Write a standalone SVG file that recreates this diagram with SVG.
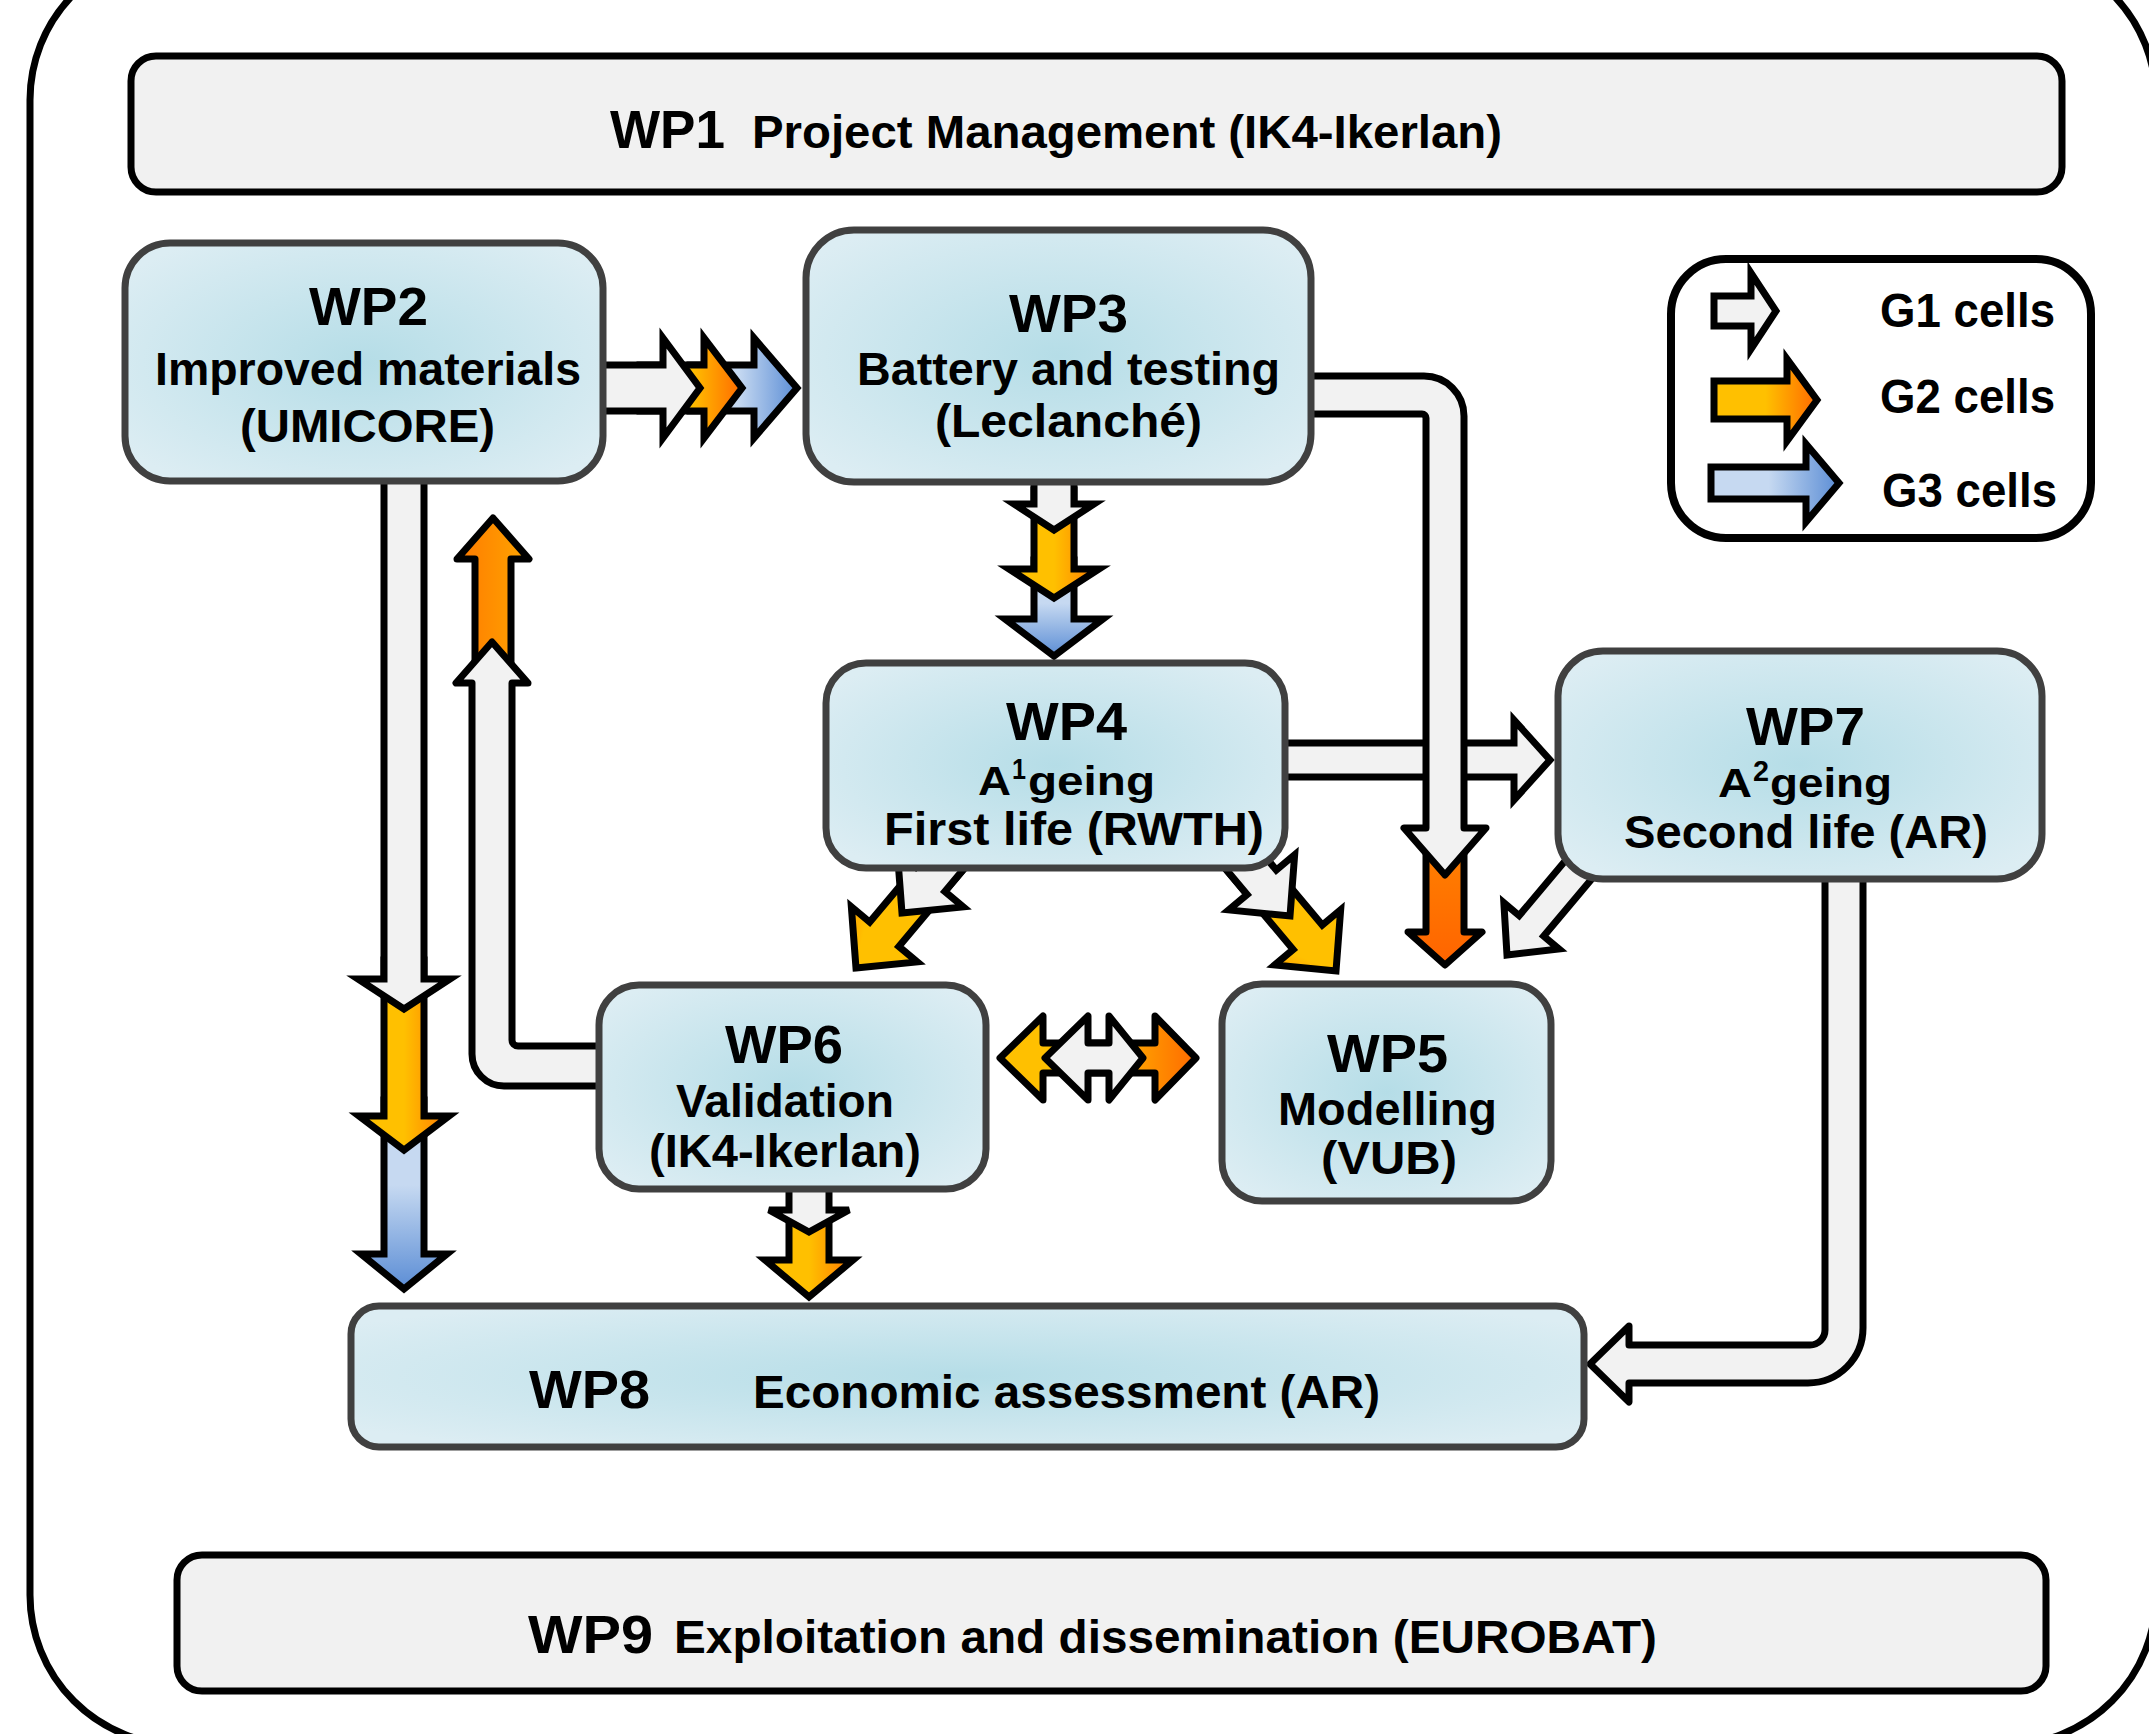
<svg xmlns="http://www.w3.org/2000/svg" width="2149" height="1734" viewBox="0 0 2149 1734">
<style>
.t{font-family:"Liberation Sans",Arial,sans-serif;font-weight:bold;fill:#000}
.box{fill:url(#nodeFill);stroke:#404040;stroke-width:7}
.gbox{fill:#f1f1f1;stroke:#000;stroke-width:7}
.arr{stroke:#000;stroke-width:7;stroke-linejoin:miter}
.rj{stroke-linejoin:round}
.g1{fill:#f2f2f2}
.g2h{fill:url(#g2h)}
.g2d{fill:url(#g2d)}
.g2v{fill:url(#g2v)}
.g2up{fill:url(#g2up)}
.g2dk{fill:url(#g2dk)}
.g3h{fill:url(#g3h)}
.g3v{fill:url(#g3v)}
</style>
<defs>
<radialGradient id="nodeFill" cx="0.5" cy="0.5" r="0.62">
<stop offset="0" stop-color="#b5dde7"/><stop offset="1" stop-color="#dcedf3"/>
</radialGradient>
<linearGradient id="g2h" x1="0" y1="0" x2="1" y2="0">
<stop offset="0" stop-color="#ffc000"/><stop offset="0.5" stop-color="#ffc000"/><stop offset="1" stop-color="#ff6a00"/>
</linearGradient>
<linearGradient id="g2d" x1="0" y1="0" x2="1" y2="1">
<stop offset="0" stop-color="#ffc000"/><stop offset="0.75" stop-color="#ffc000"/><stop offset="1" stop-color="#ff8000"/>
</linearGradient>
<linearGradient id="g2v" x1="0" y1="0" x2="1" y2="0">
<stop offset="0" stop-color="#ffc000"/><stop offset="0.5" stop-color="#ffc000"/><stop offset="1" stop-color="#ff7a00"/>
</linearGradient>
<linearGradient id="g2up" x1="0" y1="0" x2="1" y2="0">
<stop offset="0" stop-color="#ff7a00"/><stop offset="1" stop-color="#ffa500"/>
</linearGradient>
<linearGradient id="g2dk" x1="0" y1="0" x2="0" y2="1">
<stop offset="0" stop-color="#ff8000"/><stop offset="1" stop-color="#ff6400"/>
</linearGradient>
<linearGradient id="g3h" x1="0" y1="0" x2="1" y2="0">
<stop offset="0" stop-color="#c6d9f1"/><stop offset="0.45" stop-color="#c6d9f1"/><stop offset="1" stop-color="#5b8dd5"/>
</linearGradient>
<linearGradient id="g3v" x1="0" y1="0" x2="0" y2="1">
<stop offset="0" stop-color="#c6d9f1"/><stop offset="0.45" stop-color="#c6d9f1"/><stop offset="1" stop-color="#5b8dd5"/>
</linearGradient>
</defs>
<rect width="2149" height="1734" fill="#fff"/>
<rect id="frame" x="30" y="-50" width="2126" height="1795" rx="150" fill="none" stroke="#000" stroke-width="7"/>

<g id="connectors">
<!-- WP2 -> WP3 -->
<path class="arr g3h" d="M690,365 H754 V338 L797,388 L754,438 V411 H690 Z"/>
<path class="arr g2h" d="M640,365 H704 V338 L742,388 L704,438 V411 H640 Z"/>
<path class="arr g1" d="M595,365 H663 V338 L700,388 L663,438 V411 H595 Z"/>
<!-- WP3 -> WP4 -->
<path class="arr g3v" d="M1034,560 V619 H1005 L1054,656 L1103,619 H1074 V560 Z"/>
<path class="arr g2v" d="M1034,490 V569 H1009 L1054,598 L1099,569 H1074 V490 Z"/>
<path class="arr g1" d="M1034,470 V504 H1014 L1054,530 L1094,504 H1074 V470 Z"/>
<!-- WP2 -> WP8 -->
<path class="arr g3v" d="M384,1100 V1254 H361 L404,1289 L447,1254 H424 V1100 Z"/>
<path class="arr g2v" d="M384,960 V1116 H359 L404,1150 L449,1116 H424 V960 Z"/>
<path class="arr g1" d="M384,470 V979 H358 L404,1009 L450,979 H424 V470 Z"/>
<!-- WP6 -> WP2 -->
<path class="arr rj g2up" d="M475,700 V559 H457 L493,518 L529,559 H511 V700 Z"/>
<path class="arr rj g1" d="M615,1046 H518 A6,6 0 0 1 512,1040 V683 H528 L492,642 L456,683 H472 V1054 A32,32 0 0 0 504,1086 H615 Z"/>
<!-- WP6 -> WP8 -->
<path class="arr g2v" d="M789,1220 V1260 H765 L809,1297 L853,1260 H829 V1220 Z"/>
<path class="arr g1" d="M789,1170 V1210 H769 L809,1232 L849,1210 H829 V1170 Z"/>
<!-- WP6 <-> WP5 -->
<path class="arr rj g2h" d="M1000,1058 L1043,1016 V1043 H1155 V1016 L1196,1058 L1155,1100 V1073 H1043 V1100 Z"/>
<path class="arr rj g1" d="M1045,1058 L1088,1016 V1043 H1109 V1016 L1143,1058 L1109,1100 V1073 H1088 V1100 Z"/>
<!-- WP4 -> WP6 -->
<path class="arr g2d" transform="translate(856,968) rotate(130)" d="M0,0 L-44,-43 V-19 H-162 V19 H-44 V43 Z"/>
<path class="arr g1" transform="translate(902,913) rotate(130)" d="M0,0 L-44,-43 V-19 H-90 V19 H-44 V43 Z"/>
<!-- WP4 -> WP5 -->
<path class="arr g2d" transform="translate(1336,971) rotate(50)" d="M0,0 L-44,-43 V-19 H-162 V19 H-44 V43 Z"/>
<path class="arr g1" transform="translate(1290,916) rotate(50)" d="M0,0 L-44,-43 V-19 H-90 V19 H-44 V43 Z"/>
<!-- WP7 -> WP5 -->
<path class="arr g1" transform="translate(1507,955) rotate(130)" d="M0,0 L-38,-36 V-16 H-150 V16 H-38 V36 Z"/>
<!-- WP4 -> WP7 -->
<path class="arr g1" d="M1270,743 H1514 V720 L1550,760 L1514,800 V777 H1270 Z"/>
<!-- WP3 -> WP5 -->
<path class="arr rj g2dk" d="M1426,845 V932 H1408 L1445,965 L1482,932 H1464 V845 Z"/>
<path class="arr rj g1" d="M1290,376 H1424 A40,40 0 0 1 1464,416 V828 H1486 L1445,875 L1404,828 H1426 V418 A4,4 0 0 0 1422,414 H1290 Z"/>
<!-- WP7 -> WP8 -->
<path class="arr rj g1" d="M1825,860 V1330 A15,15 0 0 1 1810,1345 H1629 V1326 L1590,1364 L1629,1402 V1383 H1808 A55,55 0 0 0 1863,1328 V860 Z"/>
</g>

<g id="wp1">
<rect class="gbox" x="131" y="56" width="1931" height="136" rx="25"/>
<text class="t" x="610" y="148" font-size="54" textLength="115" lengthAdjust="spacingAndGlyphs">WP1</text>
<text class="t" x="752" y="148" font-size="47" textLength="750" lengthAdjust="spacingAndGlyphs">Project Management (IK4-Ikerlan)</text>
</g>
<g id="wp2">
<rect class="box" x="125" y="243" width="478" height="238" rx="45"/>
<text class="t" x="309" y="325" font-size="54" textLength="119" lengthAdjust="spacingAndGlyphs">WP2</text>
<text class="t" x="155" y="385" font-size="46" textLength="426" lengthAdjust="spacingAndGlyphs">Improved materials</text>
<text class="t" x="240" y="442" font-size="46" textLength="255" lengthAdjust="spacingAndGlyphs">(UMICORE)</text>
</g>
<g id="wp3">
<rect class="box" x="806" y="230" width="505" height="252" rx="48"/>
<text class="t" x="1009" y="332" font-size="54" textLength="119" lengthAdjust="spacingAndGlyphs">WP3</text>
<text class="t" x="857" y="385" font-size="46" textLength="423" lengthAdjust="spacingAndGlyphs">Battery and testing</text>
<text class="t" x="935" y="437" font-size="46" textLength="267" lengthAdjust="spacingAndGlyphs">(Leclanché)</text>
</g>
<g id="wp4">
<rect class="box" x="826" y="663" width="459" height="205" rx="40"/>
<text class="t" x="1006" y="740" font-size="54" textLength="121" lengthAdjust="spacingAndGlyphs">WP4</text>
<text class="t" x="978" y="795" font-size="41" textLength="33" lengthAdjust="spacingAndGlyphs">A</text>
<text class="t" x="1012" y="779" font-size="30" textLength="14" lengthAdjust="spacingAndGlyphs">1</text>
<text class="t" x="1028" y="795" font-size="41" textLength="127" lengthAdjust="spacingAndGlyphs">geing</text>
<text class="t" x="884" y="845" font-size="46" textLength="380" lengthAdjust="spacingAndGlyphs">First life (RWTH)</text>
</g>
<g id="wp5">
<rect class="box" x="1222" y="984" width="329" height="217" rx="40"/>
<text class="t" x="1327" y="1072" font-size="54" textLength="121" lengthAdjust="spacingAndGlyphs">WP5</text>
<text class="t" x="1278" y="1125" font-size="46" textLength="219" lengthAdjust="spacingAndGlyphs">Modelling</text>
<text class="t" x="1321" y="1174" font-size="46" textLength="136" lengthAdjust="spacingAndGlyphs">(VUB)</text>
</g>
<g id="wp6">
<rect class="box" x="599" y="985" width="387" height="204" rx="40"/>
<text class="t" x="725" y="1063" font-size="54" textLength="118" lengthAdjust="spacingAndGlyphs">WP6</text>
<text class="t" x="676" y="1117" font-size="46" textLength="218" lengthAdjust="spacingAndGlyphs">Validation</text>
<text class="t" x="649" y="1167" font-size="46" textLength="272" lengthAdjust="spacingAndGlyphs">(IK4-Ikerlan)</text>
</g>
<g id="wp7">
<rect class="box" x="1558" y="651" width="484" height="228" rx="45"/>
<text class="t" x="1746" y="745" font-size="54" textLength="119" lengthAdjust="spacingAndGlyphs">WP7</text>
<text class="t" x="1718" y="797" font-size="41" textLength="34" lengthAdjust="spacingAndGlyphs">A</text>
<text class="t" x="1753" y="781" font-size="30" textLength="16" lengthAdjust="spacingAndGlyphs">2</text>
<text class="t" x="1770" y="797" font-size="41" textLength="122" lengthAdjust="spacingAndGlyphs">geing</text>
<text class="t" x="1624" y="848" font-size="46" textLength="364" lengthAdjust="spacingAndGlyphs">Second life (AR)</text>
</g>
<g id="wp8">
<rect class="box" x="351" y="1306" width="1233" height="141" rx="28"/>
<text class="t" x="529" y="1408" font-size="54" textLength="121" lengthAdjust="spacingAndGlyphs">WP8</text>
<text class="t" x="753" y="1408" font-size="46" textLength="627" lengthAdjust="spacingAndGlyphs">Economic assessment (AR)</text>
</g>
<g id="wp9">
<rect class="gbox" x="177" y="1555" width="1869" height="136" rx="25"/>
<text class="t" x="528" y="1653" font-size="54" textLength="125" lengthAdjust="spacingAndGlyphs">WP9</text>
<text class="t" x="674" y="1653" font-size="47" textLength="983" lengthAdjust="spacingAndGlyphs">Exploitation and dissemination (EUROBAT)</text>
</g>
<g id="legend">
<rect x="1671" y="259" width="420" height="279" rx="55" fill="#fff" stroke="#000" stroke-width="8"/>
<path class="arr g1" stroke-width="8" d="M1714,296 H1751 V273 L1776,311 L1751,349 V326 H1714 Z"/>
<path class="arr g2h" stroke-width="8" d="M1714,381 H1787 V359 L1817,400 L1787,441 V419 H1714 Z"/>
<path class="arr g3h" stroke-width="8" d="M1711,467 H1806 V444 L1839,483 L1806,522 V499 H1711 Z"/>
<text class="t" x="1880" y="327" font-size="48" textLength="175" lengthAdjust="spacingAndGlyphs">G1 cells</text>
<text class="t" x="1880" y="413" font-size="48" textLength="175" lengthAdjust="spacingAndGlyphs">G2 cells</text>
<text class="t" x="1882" y="507" font-size="48" textLength="175" lengthAdjust="spacingAndGlyphs">G3 cells</text>
</g>
</svg>
